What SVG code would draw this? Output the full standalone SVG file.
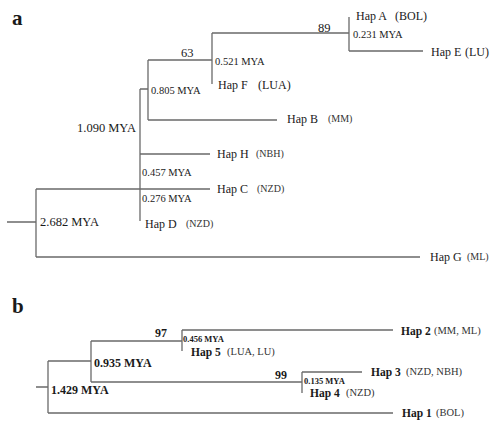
<svg xmlns="http://www.w3.org/2000/svg" width="500" height="429" viewBox="0 0 500 429">
<style>
.ln{stroke:#6a6a6a;stroke-width:1.3;fill:none}
text{font-family:"Liberation Serif","Times New Roman",serif;fill:#1a1a1a}
.pl{font-size:21px;font-weight:bold}
.hap{font-size:12px}
.par{font-size:12px}
.sp{font-size:10px;fill:#333}
.my{font-size:10.5px}
.big{font-size:12.5px}
.hb{font-size:11.5px;font-weight:bold}
.bp{font-size:10.5px;fill:#333}
.bm{font-size:8.5px;font-weight:bold}
.bb{font-size:12px;font-weight:bold}
</style>
<rect width="500" height="429" fill="#fff"/>
<text class="pl" x="12" y="25">a</text>
<text class="pl" x="12" y="313">b</text>
<g id="connectors">
<path class="ln" d="M7,222H36M36,189V257M36,257H420M36,189H210M140,89V221M140,154H210M140,89H148M148,60V120M148,60H212M148,120H277M212,33V84M212,33H349M349,17V51M349,51H423"/>
<path class="ln" d="M36,387H48M48,361V413M48,361H91M91,341V382M91,341H182M182,330V351M182,330H393M91,382H302M302,372V393M302,372H362M48,413H393"/>
</g>
<g id="labels-a">
<text class="big" x="40" y="226">2.682 MYA</text>
<text class="big" x="77" y="132">1.090 MYA</text>
<text class="my" x="151" y="94">0.805 MYA</text>
<text class="big" x="181" y="57">63</text>
<text class="my" x="215" y="65">0.521 MYA</text>
<text class="big" x="318" y="32">89</text>
<text class="my" x="353" y="38">0.231 MYA</text>
<text class="my" x="142" y="176">0.457 MYA</text>
<text class="my" x="142" y="202">0.276 MYA</text>
</g>
<g id="hapA"><text class="hap" x="356" y="20">Hap A</text><text class="par" x="395" y="20">(BOL)</text></g>
<g id="hapE"><text class="hap" x="431" y="56">Hap E</text><text class="par" x="465" y="56">(LU)</text></g>
<g id="hapF"><text class="hap" x="218" y="89">Hap F</text><text class="par" x="258" y="89">(LUA)</text></g>
<g id="hapB"><text class="hap" x="287" y="123">Hap B</text><text class="sp" x="328" y="122">(MM)</text></g>
<g id="hapH"><text class="hap" x="217" y="158">Hap H</text><text class="sp" x="256" y="157">(NBH)</text></g>
<g id="hapC"><text class="hap" x="217" y="193">Hap C</text><text class="sp" x="257" y="192">(NZD)</text></g>
<g id="hapD"><text class="hap" x="145" y="228">Hap D</text><text class="sp" x="186" y="227">(NZD)</text></g>
<g id="hapG"><text class="hap" x="430" y="261">Hap G</text><text class="sp" x="467" y="260">(ML)</text></g>
<g id="labels-b">
<text class="bb" x="51" y="394">1.429 MYA</text>
<text class="bb" x="94" y="367">0.935 MYA</text>
<text class="bb" x="155" y="337">97</text>
<text class="bm" x="183" y="342">0.456 MYA</text>
<text class="bb" x="275" y="379">99</text>
<text class="bm" x="304" y="384">0.135 MYA</text>
</g>
<g id="hap2"><text class="hb" x="401" y="335">Hap 2</text><text class="bp" x="434" y="334">(MM,  ML)</text></g>
<g id="hap5"><text class="hb" x="191" y="356">Hap 5</text><text class="bp" x="227" y="355">(LUA,  LU)</text></g>
<g id="hap3"><text class="hb" x="371" y="376">Hap 3</text><text class="bp" x="406" y="375">(NZD,  NBH)</text></g>
<g id="hap4"><text class="hb" x="310" y="397">Hap 4</text><text class="bp" x="346" y="396">(NZD)</text></g>
<g id="hap1"><text class="hb" x="402" y="417">Hap 1</text><text class="bp" x="436" y="416">(BOL)</text></g>
</svg>
